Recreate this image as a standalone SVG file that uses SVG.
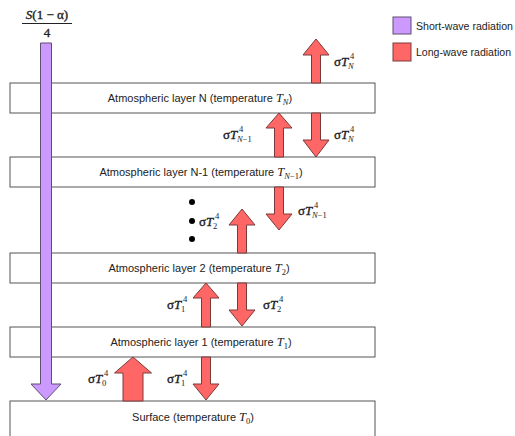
<svg xmlns="http://www.w3.org/2000/svg" width="515" height="436" viewBox="0 0 515 436">
<style>
.box{fill:#fff;stroke:#555;stroke-width:1}
.bt{font-family:"Liberation Sans",Arial,sans-serif;font-size:11px;fill:#222}
.mi{font-family:"Liberation Serif","Times New Roman",serif;font-style:italic}
.m{font-family:"Liberation Serif","Times New Roman",serif;font-size:13px;fill:#222;stroke:#222;stroke-width:0.35}
.s{font-family:"Liberation Serif","Times New Roman",serif;font-size:8.5px;fill:#222}
.lw{fill:#ff6666;stroke:#7a3a3a;stroke-width:1}
.sw{fill:#cc99ff;stroke:#5e4f70;stroke-width:1}
.lg{font-family:"Liberation Sans",Arial,sans-serif;font-size:10.5px;fill:#222}
</style>
<rect width="515" height="436" fill="#fff"/>
<g id="layerN"><rect class="box" x="10" y="83" width="365" height="30"/>
<text class="bt" x="200" y="102" text-anchor="middle">Atmospheric layer N (temperature <tspan class="mi" font-size="12.5">T</tspan><tspan class="mi" font-size="8.5" dy="3">N</tspan><tspan dy="-3">)</tspan></text></g>
<g id="layerN1"><rect class="box" x="10" y="157" width="365" height="30"/>
<text class="bt" x="201" y="176" text-anchor="middle">Atmospheric layer N-1 (temperature <tspan class="mi" font-size="12.5">T</tspan><tspan class="mi" font-size="8.5" dy="3">N</tspan><tspan font-family="Liberation Serif" font-size="8.5">−1</tspan><tspan dy="-3">)</tspan></text></g>
<g id="layer2"><rect class="box" x="10" y="253" width="365" height="30"/>
<text class="bt" x="199" y="272" text-anchor="middle">Atmospheric layer 2 (temperature <tspan class="mi" font-size="12.5">T</tspan><tspan font-family="Liberation Serif" font-size="8.5" dy="3">2</tspan><tspan dy="-3">)</tspan></text></g>
<g id="layer1"><rect class="box" x="10" y="327" width="365" height="30"/>
<text class="bt" x="201" y="346" text-anchor="middle">Atmospheric layer 1 (temperature <tspan class="mi" font-size="12.5">T</tspan><tspan font-family="Liberation Serif" font-size="8.5" dy="3">1</tspan><tspan dy="-3">)</tspan></text></g>
<g id="surface"><rect class="box" x="10" y="401" width="365" height="40"/>
<text class="bt" x="193" y="421" text-anchor="middle">Surface (temperature <tspan class="mi" font-size="12.5">T</tspan><tspan font-family="Liberation Serif" font-size="8.5" dy="3">0</tspan><tspan dy="-3">)</tspan></text></g>
<g id="connectors">
<polygon class="sw" points="40.5,43 51.5,43 51.5,384 61,384 46,400 31,384 40.5,384"/>
<polygon class="lw" points="311.5,83 311.5,55 303,55 316,39 329,55 320.5,55 320.5,83"/>
<polygon class="lw" points="274.5,157 274.5,128 266,128 279,113 292,128 283.5,128 283.5,157"/>
<polygon class="lw" points="311.5,113 320.5,113 320.5,140 329,140 316,157 303,140 311.5,140"/>
<polygon class="lw" points="274.5,187 283.5,187 283.5,214 292,214 279,230 266,214 274.5,214"/>
<polygon class="lw" points="237.5,253 237.5,225 229,225 242,209 255,225 246.5,225 246.5,253"/>
<polygon class="lw" points="201.5,327 201.5,298 193,298 206,283 219,298 210.5,298 210.5,327"/>
<polygon class="lw" points="237.5,283 246.5,283 246.5,310 255,310 242,326 229,310 237.5,310"/>
<polygon class="lw" points="123,401 123,373 114.5,373 133,357 151.5,373 143,373 143,401"/>
<polygon class="lw" points="201.5,357 210.5,357 210.5,384 219,384 206,400 193,384 201.5,384"/>
</g>
<g id="dots" fill="#000"><circle cx="192" cy="202" r="3"/><circle cx="192" cy="221" r="3"/><circle cx="192" cy="239" r="3"/></g>
<g id="labels">
<g><text class="m" x="334" y="66">σ<tspan class="mi">T</tspan></text><text class="s" x="350" y="59">4</text><text class="s mi" x="348" y="69">N</text></g>
<g><text class="m" x="223" y="139">σ<tspan class="mi">T</tspan></text><text class="s" x="239" y="132">4</text><text class="s" x="237" y="142"><tspan class="mi">N</tspan>−1</text></g>
<g><text class="m" x="334" y="139">σ<tspan class="mi">T</tspan></text><text class="s" x="350" y="132">4</text><text class="s mi" x="348" y="142">N</text></g>
<g><text class="m" x="298" y="215">σ<tspan class="mi">T</tspan></text><text class="s" x="314" y="208">4</text><text class="s" x="312" y="218"><tspan class="mi">N</tspan>−1</text></g>
<g><text class="m" x="199" y="226">σ<tspan class="mi">T</tspan></text><text class="s" x="215" y="219">4</text><text class="s" x="213" y="229">2</text></g>
<g><text class="m" x="167" y="309">σ<tspan class="mi">T</tspan></text><text class="s" x="183" y="302">4</text><text class="s" x="181" y="312">1</text></g>
<g><text class="m" x="263" y="309">σ<tspan class="mi">T</tspan></text><text class="s" x="279" y="302">4</text><text class="s" x="277" y="312">2</text></g>
<g><text class="m" x="88" y="383">σ<tspan class="mi">T</tspan></text><text class="s" x="104" y="376">4</text><text class="s" x="102" y="386">0</text></g>
<g><text class="m" x="167" y="383">σ<tspan class="mi">T</tspan></text><text class="s" x="183" y="376">4</text><text class="s" x="181" y="386">1</text></g>
</g>
<g id="formula">
<text class="m" x="47" y="19" text-anchor="middle"><tspan class="mi">S</tspan>(1 − α)</text>
<line x1="22" y1="23.5" x2="72" y2="23.5" stroke="#222" stroke-width="1"/>
<text class="m" x="47" y="37" text-anchor="middle">4</text>
</g>
<g id="legend">
<rect class="sw" x="393" y="17" width="18" height="17"/>
<text class="lg" x="416" y="30" textLength="97" lengthAdjust="spacingAndGlyphs">Short-wave radiation</text>
<rect class="lw" x="393" y="43" width="18" height="18"/>
<text class="lg" x="416" y="56" textLength="95" lengthAdjust="spacingAndGlyphs">Long-wave radiation</text>
</g>
</svg>
